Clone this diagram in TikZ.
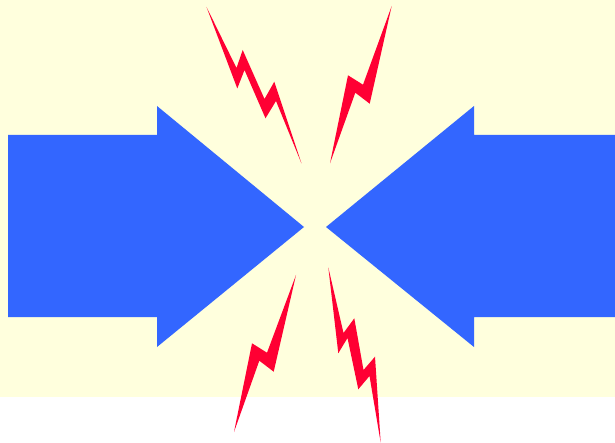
\documentclass[tikz,border=0pt]{standalone}
\usepackage{tikz}
\definecolor{paleyellow}{HTML}{FFFFDD}
\definecolor{arrowblue}{HTML}{3366FF}
\definecolor{boltred}{HTML}{FF0033}
\tikzset{
  backdrop/.style={fill=paleyellow},
  pusharrow/.style={fill=arrowblue},
  bolt/.style={fill=boltred}
}
\begin{document}
\begin{tikzpicture}[x=1pt, y=-1pt]
  \useasboundingbox (0,0) rectangle (615,443);
  \fill[backdrop] (0,0) rectangle (615,397);

  \fill[pusharrow] (8,135) -- (157,135) -- (157,106) -- (304,227)
    -- (157,347) -- (157,317) -- (8,317) -- cycle;
  \fill[pusharrow] (615,135) -- (474,135) -- (474,106) -- (326,227)
    -- (474,347) -- (474,317) -- (615,317) -- cycle;

  \fill[bolt] (206.5,7) -- (237.3,88.5) -- (244.5,70) -- (265.5,118.3)
    -- (276,101) -- (301.5,163.5) -- (274.3,81.7) -- (264.5,99)
    -- (242.7,50) -- (236.5,68) -- cycle;
  \fill[bolt] (391.7,6) -- (363,84.7) -- (348,75.3) -- (330,163.3)
    -- (355.3,92.7) -- (369.7,103.7) -- cycle;
  \fill[bolt] (296,275) -- (267,352.7) -- (252,343.3) -- (234,432)
    -- (259.3,360.7) -- (273.7,371.7) -- cycle;
  \fill[bolt] (328.3,267.3) -- (338.3,353.3) -- (347.5,338) -- (358.3,389.3)
    -- (369.5,376) -- (380.7,442.7) -- (375,356.7) -- (363.5,370)
    -- (354.3,318.3) -- (343.5,333) -- cycle;
\end{tikzpicture}
\end{document}
